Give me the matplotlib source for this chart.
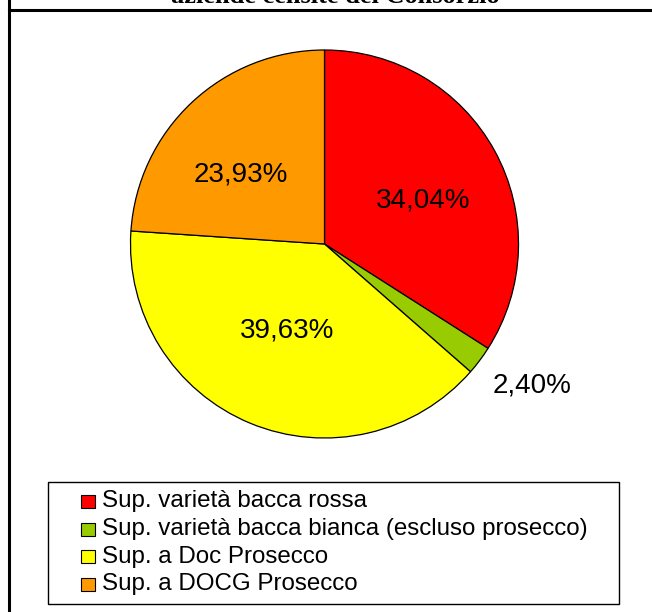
import matplotlib
matplotlib.use("Agg")
import matplotlib.pyplot as plt
import numpy as np
from matplotlib.lines import Line2D
from matplotlib.patches import Rectangle

categories = [
    "Sup. varietà bacca rossa",
    "Sup. varietà bacca bianca (escluso prosecco)",
    "Sup. a Doc Prosecco",
    "Sup. a DOCG Prosecco",
]
shares = [34.04, 2.40, 39.63, 23.93]
colors = ["#ff0000", "#99cc00", "#ffff00", "#ff9900"]
label_radius = [0.554, 1.296, 0.484, 0.558]
label_angle_shift = [-5.1, 2.5, -1.1, 7.3]
title = "aziende censite del Consorzio"

W, H = 652, 612
fig = plt.figure(figsize=(W / 100, H / 100), dpi=100)
fig.patch.set_facecolor("white")

def fx(px):
    return px / W

def fy(py):
    return 1 - py / H

# pie axes: centre (324.5, 244), radius 194 px
cx, cy, r = 324.5, 244, 194
ax = fig.add_axes([fx(cx - r), fy(cy + r), 2 * r / W, 2 * r / H])
wedges, _ = ax.pie(shares, colors=colors, startangle=90, counterclock=False,
                   radius=1.0,
                   wedgeprops=dict(edgecolor="black", linewidth=0.9))
ax.set_xlim(-1, 1)
ax.set_ylim(-1, 1)
ax.set_aspect("auto")
ax.axis("off")

for w, val, lr, dang in zip(wedges, shares, label_radius, label_angle_shift):
    ang = np.deg2rad((w.theta1 + w.theta2) / 2 + dang)
    ax.text(lr * np.cos(ang), lr * np.sin(ang),
            f"{val:.2f}".replace(".", ",") + "%",
            ha="center", va="center", fontsize=20,
            family="Liberation Sans", color="black")

# chart frame lines
fig.add_artist(Line2D([fx(8.5), fx(8.5)], [0, 1], color="black", lw=2.2,
                      transform=fig.transFigure))
fig.add_artist(Line2D([fx(8.5), 1], [fy(10), fy(10)], color="black", lw=2.2,
                      transform=fig.transFigure))

# title (partly clipped by the top edge)
fig.text(fx(335), fy(3.0), title, ha="center", va="baseline",
         fontsize=19, fontweight="bold", family="Liberation Serif")

# legend box drawn in figure pixels
fig.add_artist(Rectangle((fx(48), fy(604)), fx(619) - fx(48), fy(482) - fy(604),
                         transform=fig.transFigure, facecolor="white",
                         edgecolor="black", linewidth=1.0))
row0, row_step = 501.5, 27.5
for i, (lab, c) in enumerate(zip(categories, colors)):
    yc = row0 + i * row_step
    fig.add_artist(Rectangle((fx(81), fy(yc + 6.5)), fx(14), 13 / H,
                             transform=fig.transFigure, facecolor=c,
                             edgecolor="black", linewidth=0.8))
    fig.text(fx(102), fy(yc), lab, ha="left", va="center",
             fontsize=17.4, family="Liberation Sans", color="black")

fig.savefig("out.png", dpi=100, facecolor="white")
